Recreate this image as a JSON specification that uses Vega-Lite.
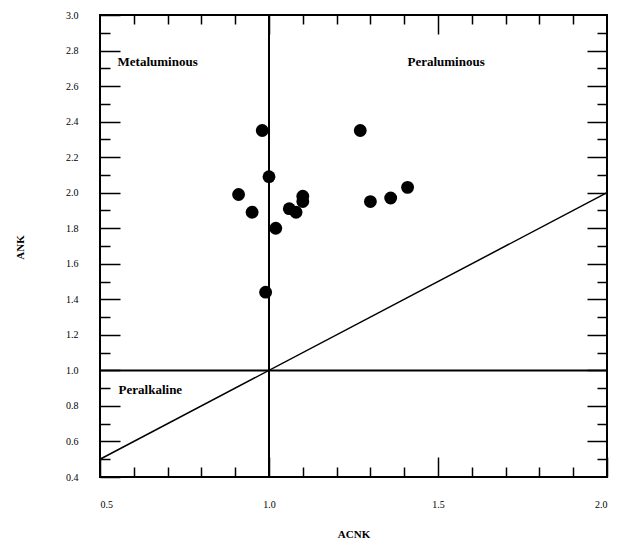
{
  "$schema": "https://vega.github.io/schema/vega-lite/v6.json",
  "width": 507,
  "height": 462,
  "autosize": "none",
  "padding": {"left": 100, "top": 15, "right": 13, "bottom": 71},
  "background": "white",
  "config": {
    "font": "Liberation Serif",
    "view": {"stroke": "black", "strokeWidth": 2},
    "axis": {"grid": false, "domainColor": "black", "tickColor": "black", "tickWidth": 1.5, "labelOverlap": false}
  },
  "layer": [
    {
      "data": {"values": [
        {"ACNK": 0.98, "ANK": 2.35},
        {"ACNK": 1.27, "ANK": 2.35},
        {"ACNK": 1.00, "ANK": 2.09},
        {"ACNK": 0.91, "ANK": 1.99},
        {"ACNK": 0.95, "ANK": 1.89},
        {"ACNK": 1.02, "ANK": 1.80},
        {"ACNK": 1.06, "ANK": 1.91},
        {"ACNK": 1.08, "ANK": 1.89},
        {"ACNK": 1.10, "ANK": 1.98},
        {"ACNK": 1.10, "ANK": 1.95},
        {"ACNK": 1.30, "ANK": 1.95},
        {"ACNK": 1.36, "ANK": 1.97},
        {"ACNK": 1.41, "ANK": 2.03},
        {"ACNK": 0.99, "ANK": 1.44}
      ]},
      "mark": {"type": "circle", "size": 165, "color": "black", "opacity": 1},
      "encoding": {
        "x": {
          "field": "ACNK", "type": "quantitative",
          "scale": {"domain": [0.5, 2.0], "nice": false, "zero": false},
          "axis": {
            "orient": "bottom",
            "title": "ACNK",
            "values": [0.5, 0.6, 0.7, 0.8, 0.9, 1.0, 1.1, 1.2, 1.3, 1.4, 1.5, 1.6, 1.7, 1.8, 1.9, 2.0],
            "tickSize": {"condition": {"test": "round(datum.value*10) % 5 == 0", "value": -20}, "value": -10},
            "labelPadding": 42,
            "labelExpr": "round(datum.value*10) % 5 == 0 ? format(datum.value, '.1f') : ''",
            "titleY": 60,
            "titleBaseline": "alphabetic"
          }
        },
        "y": {
          "field": "ANK", "type": "quantitative",
          "scale": {"domain": [0.4, 3.0], "nice": false, "zero": false},
          "axis": {
            "orient": "left",
            "title": "ANK",
            "values": [0.4, 0.5, 0.6, 0.7, 0.8, 0.9, 1.0, 1.1, 1.2, 1.3, 1.4, 1.5, 1.6, 1.7, 1.8, 1.9, 2.0, 2.1, 2.2, 2.3, 2.4, 2.5, 2.6, 2.7, 2.8, 2.9, 3.0],
            "tickSize": {"condition": {"test": "round(datum.value*10) % 2 == 0", "value": -20}, "value": -10},
            "labelPadding": 42,
            "labelExpr": "round(datum.value*10) % 2 == 0 ? format(datum.value, '.1f') : ''",
            "titleX": -77,
            "titleY": 232,
            "titleBaseline": "alphabetic"
          }
        }
      }
    },
    {
      "data": {"values": [{"x0": 0.5, "y0": 0.5, "x1": 2.0, "y1": 2.0}]},
      "mark": {"type": "rule", "color": "black", "strokeWidth": 1.5},
      "encoding": {
        "x": {
          "field": "x0", "type": "quantitative",
          "scale": {"domain": [0.5, 2.0], "nice": false, "zero": false},
          "axis": {
            "orient": "top",
            "title": null,
            "labels": false,
            "values": [0.6, 0.7, 0.8, 0.9, 1.0, 1.1, 1.2, 1.3, 1.4, 1.5, 1.6, 1.7, 1.8, 1.9],
            "tickSize": {"condition": {"test": "round(datum.value*10) % 5 == 0", "value": -19}, "value": -9}
          }
        },
        "y": {
          "field": "y0", "type": "quantitative",
          "scale": {"domain": [0.4, 3.0], "nice": false, "zero": false},
          "axis": {
            "orient": "right",
            "title": null,
            "labels": false,
            "values": [0.5, 0.6, 0.7, 0.8, 0.9, 1.0, 1.1, 1.2, 1.3, 1.4, 1.5, 1.6, 1.7, 1.8, 1.9, 2.0, 2.1, 2.2, 2.3, 2.4, 2.5, 2.6, 2.7, 2.8, 2.9],
            "tickSize": {"condition": {"test": "round(datum.value*10) % 2 == 0", "value": -20}, "value": -10}
          }
        },
        "x2": {"field": "x1"},
        "y2": {"field": "y1"}
      }
    },
    {
      "data": {"values": [{"v": 1.0}]},
      "mark": {"type": "rule", "color": "black", "strokeWidth": 2},
      "encoding": {
        "x": {"field": "v", "type": "quantitative", "scale": {"domain": [0.5, 2.0], "nice": false, "zero": false}, "axis": null}
      }
    },
    {
      "data": {"values": [{"v": 1.0}]},
      "mark": {"type": "rule", "color": "black", "strokeWidth": 2},
      "encoding": {
        "y": {"field": "v", "type": "quantitative", "scale": {"domain": [0.4, 3.0], "nice": false, "zero": false}, "axis": null}
      }
    },
    {
      "data": {"values": [
        {"label": "Metaluminous", "x": 0.552, "y": 2.735},
        {"label": "Peralkaline", "x": 0.555, "y": 0.89}
      ]},
      "mark": {"type": "text", "align": "left", "baseline": "middle", "font": "Liberation Serif", "fontWeight": "bold", "fontSize": 13, "color": "black"},
      "encoding": {
        "x": {"field": "x", "type": "quantitative", "scale": {"domain": [0.5, 2.0], "nice": false, "zero": false}, "axis": null},
        "y": {"field": "y", "type": "quantitative", "scale": {"domain": [0.4, 3.0], "nice": false, "zero": false}, "axis": null},
        "text": {"field": "label"}
      }
    },
    {
      "data": {"values": [
        {"label": "Peraluminous", "x": 1.524, "y": 2.735}
      ]},
      "mark": {"type": "text", "align": "center", "baseline": "middle", "font": "Liberation Serif", "fontWeight": "bold", "fontSize": 13, "color": "black"},
      "encoding": {
        "x": {"field": "x", "type": "quantitative", "scale": {"domain": [0.5, 2.0], "nice": false, "zero": false}, "axis": null},
        "y": {"field": "y", "type": "quantitative", "scale": {"domain": [0.4, 3.0], "nice": false, "zero": false}, "axis": null},
        "text": {"field": "label"}
      }
    }
  ],
  "resolve": {"axis": {"x": "independent", "y": "independent"}}
}
